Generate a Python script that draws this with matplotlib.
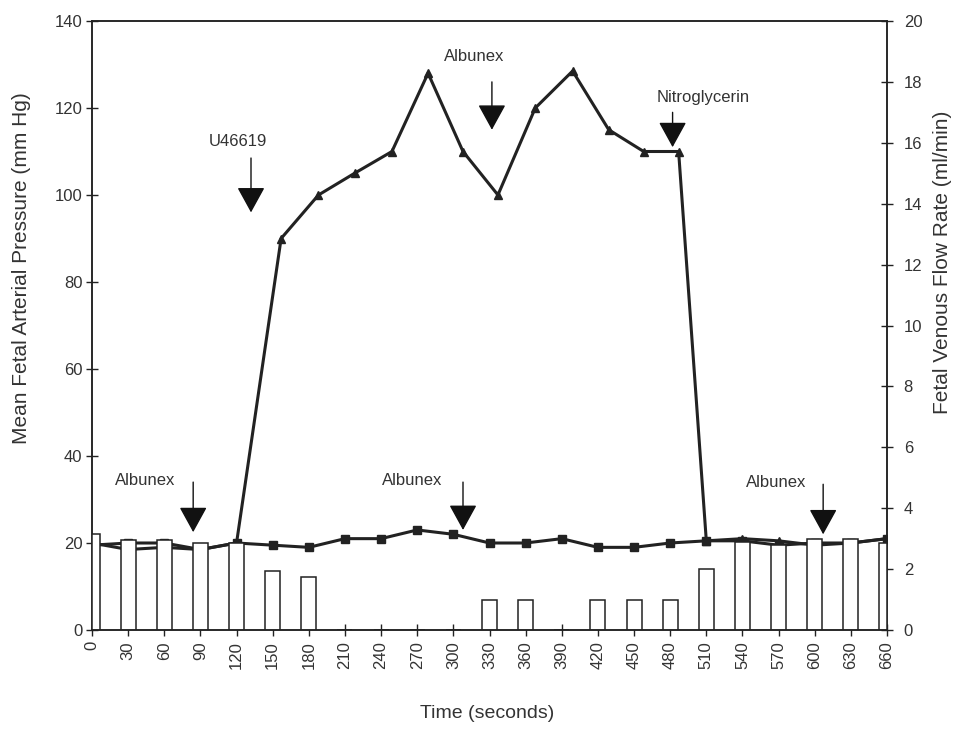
import matplotlib
matplotlib.use("Agg")
import matplotlib.pyplot as plt

plt.rcParams['font.family'] = ['Liberation Sans', 'DejaVu Sans']

# ---- data ----
time_ticks = list(range(0, 661, 30))

# pressure with square markers (control line)
sq_time = [0, 30, 60, 90, 120, 150, 180, 210, 240, 270, 300, 330, 360, 390,
           420, 450, 480, 510, 540, 570, 600, 630, 660]
sq_pressure = [19.5, 20, 20, 18.5, 20, 19.5, 19, 21, 21, 23, 22, 20, 20, 21,
               19, 19, 20, 20.5, 20.5, 19.5, 20, 20, 21]

# pressure with triangle markers
tri_time = [0, 30, 60, 90, 120, 157, 188, 218, 249, 279, 308, 337, 368, 399,
            429, 458, 487, 510, 540, 570, 600, 630, 660]
tri_pressure = [20, 18.5, 19, 18.5, 20, 90, 100, 105, 110, 128, 110, 100, 120, 128.5,
                115, 110, 110, 20.5, 21, 20.5, 19.5, 20, 21]

# venous flow (bars)
bar_time = [0, 30, 60, 90, 120, 150, 180, 210, 240, 270, 300, 330, 360, 390,
            420, 450, 480, 510, 540, 570, 600, 630, 660]
flow = [3.15, 2.95, 2.95, 2.85, 2.85, 1.95, 1.75, 0, 0, 0, 0, 1.0, 1.0, 0,
        1.0, 1.0, 1.0, 2.0, 2.9, 2.8, 3.0, 3.0, 2.85]

# annotations: label, arrow x (s), arrow top, arrow tip (mm Hg), text x, text y
ann_labels = ["Albunex", "U46619", "Albunex", "Nitroglycerin", "Albunex", "Albunex"]
ann_x = [84, 132, 332, 482, 308, 607]
ann_top = [34, 108.5, 126, 119, 34, 33.5]
ann_tip = [22.5, 96, 115, 111, 23, 22]
ann_tx = [44, 121, 317, 507, 266, 568]
ann_ty = [34.3, 112.3, 131.8, 122.5, 34.3, 34]

W, H = 957, 731
fig = plt.figure(figsize=(W / 100, H / 100), dpi=100)
ax = fig.add_axes([92 / W, 1 - 630 / H, (887 - 92) / W, (630 - 21) / H])
ax2 = ax.twinx()

ink = '#222222'
txt = '#333333'

ax.plot(sq_time, sq_pressure, color=ink, lw=2.2, marker='s', ms=6, mfc=ink, mec=ink, zorder=3)
ax.plot(tri_time, tri_pressure, color=ink, lw=2.2, marker='^', ms=6, mfc=ink, mec=ink, zorder=3)
ax2.bar(bar_time, flow, width=12.5, facecolor='white', edgecolor=ink, linewidth=1.1, zorder=2)

ax.set_xlim(0, 660)
ax.set_ylim(0, 140)
ax2.set_ylim(0, 20)
ax.set_xticks(time_ticks)
ax.set_xticklabels([str(t) for t in time_ticks], rotation=90)
ax.set_yticks(range(0, 141, 20))
ax2.set_yticks(range(0, 21, 2))

for a in (ax, ax2):
    for s in a.spines.values():
        s.set_color(ink)
        s.set_linewidth(1.1)
    a.tick_params(direction='inout', length=8, width=1, colors=ink, labelcolor=txt, labelsize=12)
ax.tick_params(axis='y', pad=3)
ax.tick_params(axis='x', pad=4)
ax2.tick_params(axis='y', pad=8)

for lab, x, yt, yp, tx, ty in zip(ann_labels, ann_x, ann_top, ann_tip, ann_tx, ann_ty):
    ax2.annotate('', xy=(x, yp / 7), xytext=(x, yt / 7),
                 arrowprops=dict(arrowstyle='-|>,head_length=1.0,head_width=0.55',
                                 color='#111111', lw=1, mutation_scale=16,
                                 shrinkA=0, shrinkB=0), zorder=5)
    ax2.text(tx, ty / 7, lab, ha='center', va='center', fontsize=12, color=txt, zorder=5)

fig.text(487 / W, 1 - 714 / H, 'Time (seconds)', ha='center', va='center', fontsize=14, color=txt)
fig.text(22 / W, 1 - 268 / H, 'Mean Fetal Arterial Pressure (mm Hg)', ha='center', va='center',
         rotation=90, fontsize=15, color=txt)
fig.text(942 / W, 1 - 262 / H, 'Fetal Venous Flow Rate (ml/min)', ha='center', va='center',
         rotation=90, fontsize=15, color=txt)

fig.savefig('out.png', dpi=100, facecolor='white')
